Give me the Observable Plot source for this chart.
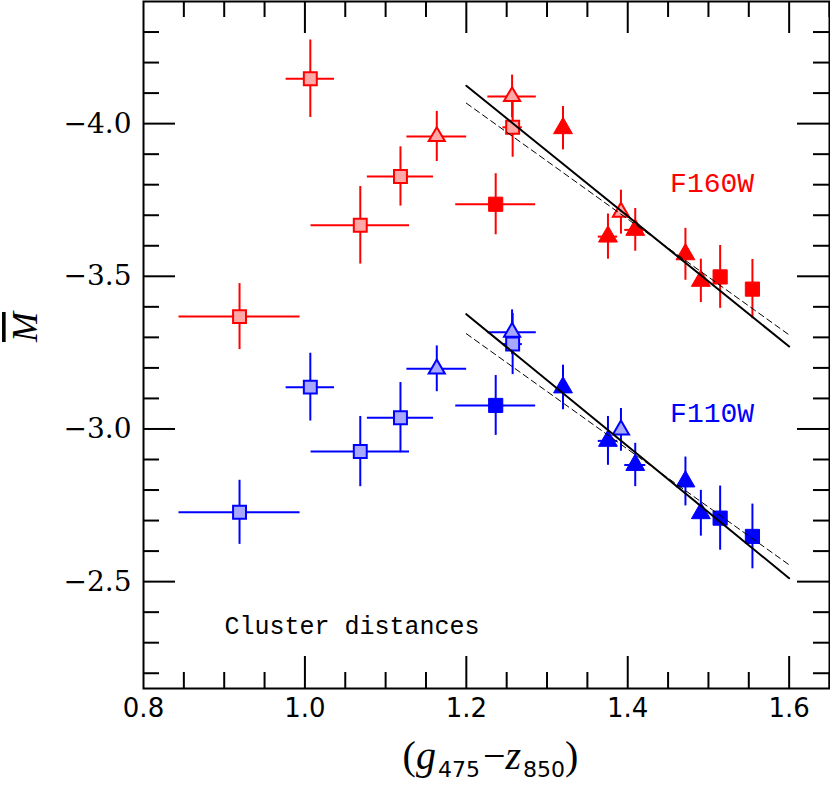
<!DOCTYPE html>
<html><head><meta charset="utf-8">
<script src="https://cdn.jsdelivr.net/npm/d3@7"></script>
<script src="https://cdn.jsdelivr.net/npm/@observablehq/plot@0.6"></script>
<style>body{margin:0;background:#fff}</style>
</head><body><div id="chart"></div>
<script>
// ---------- data ----------
// Light ("open") squares
const lsqX      = [0.919, 1.0067, 1.0686, 1.1184, 1.2574];
const lsqEx     = [0.075, 0.030, 0.061, 0.041, 0.012];
const lsq160Y   = [-3.368, -4.147, -3.667, -3.827, -3.988];
const lsq160Ey  = [0.108, 0.127, 0.127, 0.097, 0.098];
const lsq110Y   = [-2.727, -3.137, -2.926, -3.037, -3.278];
const lsq110Ey  = [0.105, 0.111, 0.115, 0.115, 0.100];
// Light triangles
const ltrX      = [1.1634, 1.2567, 1.3916];
const ltrEx     = [0.037, 0.030, 0];
const ltr160Y   = [-3.958, -4.089, -3.710];
const ltr160Ey  = [0.082, 0.070, 0.072];
const ltr110Y   = [-3.197, -3.317, -2.997];
const ltr110Ey  = [0.075, 0.073, 0.070];
// Filled squares
const fsqX      = [1.2364, 1.5145, 1.5545];
const fsqEx     = [0.0495, 0, 0];
const fsq160Y   = [-3.736, -3.498, -3.458];
const fsq160Ey  = [0.100, 0.103, 0.097];
const fsq110Y   = [-3.077, -2.708, -2.648];
const fsq110Ey  = [0.098, 0.105, 0.106];
// Filled triangles
const ftrX      = [1.3198, 1.3755, 1.4093, 1.4715, 1.4906];
const ftrEx     = [0, 0.012, 0.013, 0, 0];
const ftr160Y   = [-3.985, -3.630, -3.652, -3.572, -3.485];
const ftr160Ey  = [0.071, 0.074, 0.070, 0.085, 0.071];
const ftr110Y   = [-3.136, -2.961, -2.882, -2.828, -2.724];
const ftr110Ey  = [0.073, 0.080, 0.071, 0.080, 0.075];
// Fit lines
const fitX        = [1.2, 1.6];
const fit160Solid = [-4.124, -3.270];
const fit160Dash  = [-4.067, -3.308];
const fit110Solid = [-3.376, -2.511];
const fit110Dash  = [-3.312, -2.555];
// Annotations
const annText  = ["F160W", "F110W"];
const annX     = [1.5045, 1.5045];
const annY     = [-3.804, -3.0525];
const annColor = ["#ff0000", "#0000ff"];
const noteText = ["Cluster distances"];
const noteX = [1.0584], noteY = [-2.356];
// Ticks
const xLabels = [0.8, 1.0, 1.2, 1.4, 1.6];
const xMajor  = [1.0, 1.2, 1.4, 1.6];
const xMinor  = [0.85, 0.9, 0.95, 1.05, 1.1, 1.15, 1.25, 1.3, 1.35, 1.45, 1.5, 1.55, 1.65];
const yMajor  = [-4.0, -3.5, -3.0, -2.5];
const yMinor  = [-4.3, -4.2, -4.1, -3.9, -3.8, -3.7, -3.6, -3.4, -3.3, -3.2, -3.1, -2.9, -2.8, -2.7, -2.6, -2.4, -2.3, -2.2];
const yLabel  = "M";
const xTitleParts = [["(", "n"], ["g", "i"], ["475", "s"], ["\u2212", "n"], ["z", "i"], ["850", "s"], [")", "n"]];

// ---------- build tables ----------
const RED = "#ff0000", BLUE = "#0000ff", LRED = "#ffa8a8", LBLUE = "#a8a8ff";
function rows(xs, ys, exs, eys, stroke, fill) {
  return xs.map((x, i) => ({x, y: ys[i], ex: exs[i], ey: eys[i], stroke, fill}));
}
const lsq = [...rows(lsqX, lsq160Y, lsqEx, lsq160Ey, RED, LRED), ...rows(lsqX, lsq110Y, lsqEx, lsq110Ey, BLUE, LBLUE)];
const ltr = [...rows(ltrX, ltr160Y, ltrEx, ltr160Ey, RED, LRED), ...rows(ltrX, ltr110Y, ltrEx, ltr110Ey, BLUE, LBLUE)];
const fsq = [...rows(fsqX, fsq160Y, fsqEx, fsq160Ey, RED, RED), ...rows(fsqX, fsq110Y, fsqEx, fsq110Ey, BLUE, BLUE)];
const ftr = [...rows(ftrX, ftr160Y, ftrEx, ftr160Ey, RED, RED), ...rows(ftrX, ftr110Y, ftrEx, ftr110Ey, BLUE, BLUE)];
const all = [...lsq, ...ltr, ...fsq, ...ftr];
const fitRows = (ys, id) => fitX.map((x, i) => ({x, y: ys[i], id}));
const solid = [...fitRows(fit160Solid, "a"), ...fitRows(fit110Solid, "b")];
const dashed = [...fitRows(fit160Dash, "a"), ...fitRows(fit110Dash, "b")];
const ann = annText.map((t, i) => ({t, x: annX[i], y: annY[i], c: annColor[i]}));
const note = noteText.map((t, i) => ({t, x: noteX[i], y: noteY[i]}));

// ---------- layout ----------
const W = 830, H = 785, mT = 1, mB = 97, mL = 143, mR = 1;
const fh = H - mT - mB, fw = W - mL - mR;
const tk = {stroke: "black", strokeWidth: 2};
const xTicks = (vals, len) => [
  Plot.ruleX(vals, {x: d => d, insetTop: fh - len, ...tk}),
  Plot.ruleX(vals, {x: d => d, insetBottom: fh - len, ...tk})];
const yTicks = (vals, len) => [
  Plot.ruleY(vals, {y: d => d, insetRight: fw - len, ...tk}),
  Plot.ruleY(vals, {y: d => d, insetLeft: fw - len, ...tk})];

const svg = Plot.plot({
  width: W, height: H,
  marginTop: mT, marginBottom: mB, marginLeft: mL, marginRight: mR,
  x: {domain: [0.8, 1.65]},
  y: {domain: [-4.4, -2.15], reverse: true},
  color: {type: "identity"},
  style: {background: "#fff"},
  marks: [
    ...xTicks(xMinor, 16), ...xTicks(xMajor, 32),
    ...yTicks(yMinor, 16), ...yTicks(yMajor, 32),
    Plot.axisX(xLabels, {tickSize: 0, tickPadding: 10, fontSize: 26, fontFamily: "DejaVu Sans",
      tickFormat: d3.format(".1f"), label: null, fill: "black"}),
    Plot.axisY(yMajor, {tickSize: 0, tickPadding: 12, fontSize: 28, fontFamily: "DejaVu Serif",
      tickFormat: d3.format(".1f"), label: null, fill: "black"}),
    // error bars
    Plot.ruleY(all.filter(d => d.ex > 0), {y: "y", x1: d => d.x - d.ex, x2: d => d.x + d.ex, stroke: "stroke", strokeWidth: 2}),
    Plot.ruleX(all, {x: "x", y1: d => d.y - d.ey, y2: d => d.y + d.ey, stroke: "stroke", strokeWidth: 2}),
    // markers
    Plot.dot(lsq, {x: "x", y: "y", symbol: "square", r: 7.3, fill: "fill", stroke: "stroke", strokeWidth: 2}),
    Plot.dot(ltr, {x: "x", y: "y", symbol: "triangle", r: 6, fill: "fill", stroke: "stroke", strokeWidth: 2}),
    Plot.dot(fsq, {x: "x", y: "y", symbol: "square", r: 8, fill: "fill", stroke: "stroke", strokeWidth: 1}),
    Plot.dot(ftr, {x: "x", y: "y", symbol: "triangle", r: 7, fill: "fill", stroke: "stroke", strokeWidth: 1}),
    // fits
    Plot.line(solid, {x: "x", y: "y", z: "id", stroke: "black", strokeWidth: 2}),
    Plot.line(dashed, {x: "x", y: "y", z: "id", stroke: "black", strokeWidth: 1, strokeDasharray: "6,4"}),
    // labels
    Plot.text(ann, {x: "x", y: "y", text: "t", fill: "c", fontSize: 28, fontFamily: "Liberation Mono"}),
    Plot.text(note, {x: "x", y: "y", text: "t", fill: "black", fontSize: 25, fontFamily: "Liberation Mono"}),
    Plot.text([yLabel], {text: d => d, frameAnchor: "left", dx: -118, dy: -3, rotate: -90,
      fontSize: 36, fontStyle: "italic", fontFamily: "Liberation Serif", fill: "black", className: "ylab"}),
    Plot.text(["x"], {text: d => d, frameAnchor: "bottom", dx: 4, dy: 68, lineAnchor: "middle",
      fontSize: 40, fontFamily: "Liberation Serif", fill: "black", className: "xtitle"}),
    Plot.frame({stroke: "black", strokeWidth: 2})
  ]
});

// overline on M, subscripts in the x title (still real text)
const yl = svg.querySelector(".ylab text");
if (yl) yl.style.textDecoration = "overline";
const xt = svg.querySelector(".xtitle text");
if (xt) {
  xt.textContent = "";
  const sel = d3.select(xt);
  let down = false;
  for (const [s, k] of xTitleParts) {
    const ts = sel.append("tspan").text(s);
    if (k === "i") ts.attr("font-style", "italic");
    if (k === "s") { ts.attr("font-size", 22).attr("font-family", "DejaVu Sans").attr("dy", 8).attr("dx", 2); down = true; }
    else if (down) { ts.attr("dy", -8); down = false; }
    if (s === "\u2212") ts.attr("dx", 3);
  }
}
document.getElementById("chart").appendChild(svg);
</script></body></html>
